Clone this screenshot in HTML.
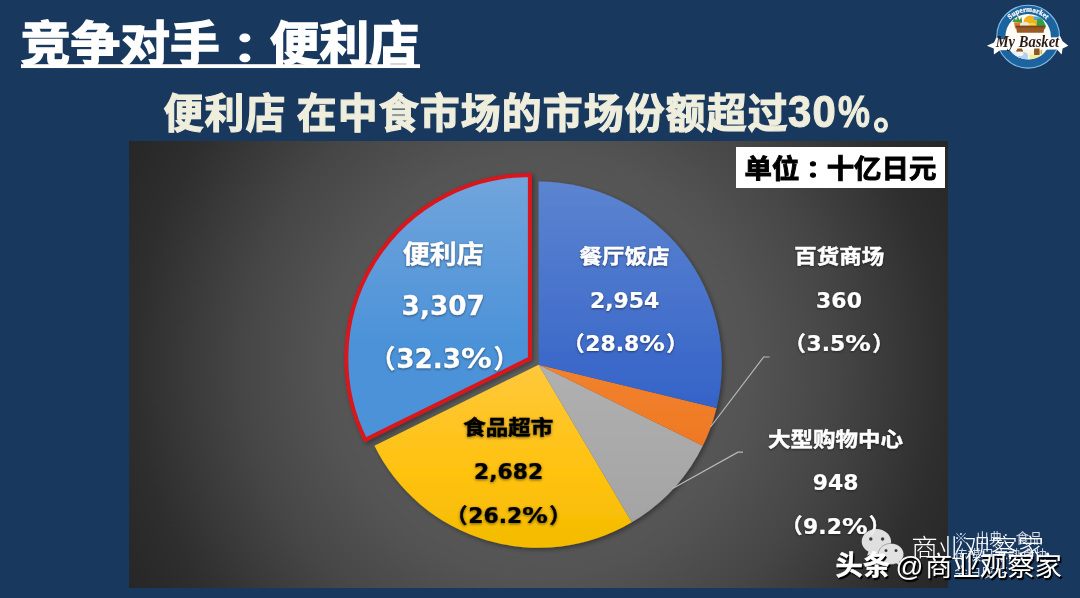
<!DOCTYPE html>
<html lang="zh-CN">
<head>
<meta charset="utf-8">
<title>竞争对手：便利店</title>
<style>
html,body{margin:0;padding:0;}
body{width:1080px;height:598px;overflow:hidden;position:relative;background:#19385e;
  font-family:"Liberation Sans","Noto Sans CJK SC",sans-serif;}
.abs{position:absolute;white-space:nowrap;}
.cjk{font-family:"Noto Sans CJK SC","Liberation Sans",sans-serif;font-weight:bold;}
.tc{font-family:"Noto Sans CJK TC","Noto Sans CJK SC",sans-serif;display:inline-block;transform-origin:50% 80%;transform:translateY(0.03em) scaleY(0.86);}
#title{left:20.7px;top:4px;font-size:49.8px;line-height:72px;color:#fff;-webkit-text-stroke:1.5px #fff;transform-origin:0 41px;transform:scale(1,0.96);letter-spacing:0px;}
#title .u{position:absolute;left:-0.2px;right:-0.5px;top:61.3px;height:3.5px;background:#fff;}
#sub{left:163.5px;top:74.6px;font-size:39.8px;line-height:72px;color:#efeedd;-webkit-text-stroke:1.15px #efeedd;transform-origin:0 57px;transform:scale(1,1.03);letter-spacing:1.2px;}
#pct{font-family:"Liberation Sans",sans-serif;font-size:41px;letter-spacing:1.3px;-webkit-text-stroke:1.0px #efeedd;display:inline-block;position:relative;top:-0.8px;transform-origin:0 78%;transform:scale(1.02,1.03);margin-right:1.0px;margin-left:-0.8px;}
#pc{display:inline-block;transform-origin:0 70%;transform:scaleX(0.86);margin-left:0.3px;margin-right:-2.0px;}
#panel{left:128.5px;top:141.3px;width:819.6px;height:446.5px;
  background:radial-gradient(circle 470px at 50% 50%, #626262 0%, #545454 45%, #464646 63%, #2e2e2e 86%, #262626 100%);}
#unit{left:735.5px;top:147.2px;width:209.5px;height:40.8px;background:#fff;color:#000;}
#unit span.t{position:absolute;left:9px;top:-0.8px;font-size:27.4px;line-height:40.8px;letter-spacing:0px;-webkit-text-stroke:1.0px #000;transform-origin:0 50%;transform:scale(1,0.96);}
#chart{left:0;top:0;}
#chart text{text-anchor:middle;font-weight:bold;}
#chart .lb{fill:#fff;filter:drop-shadow(0.6px 1px 1.2px rgba(0,0,0,.45));}
#chart .lb.dk{fill:#000;filter:drop-shadow(0.6px 1px 1.8px rgba(0,0,0,.55));}
#chart .c{font-family:"Noto Sans CJK SC","Liberation Sans",sans-serif;stroke-width:0.5px;stroke:#fff;}
#chart .dk .c{stroke:#000;}
#chart .n{font-family:"DejaVu Sans","Liberation Sans","Noto Sans CJK SC",sans-serif;stroke:#fff;stroke-width:0.25px;}
#chart .dk .n{stroke:#000;}
#chart .p{stroke-width:0.6px;}
#logo{left:980px;top:0;}
#src{left:954.3px;top:528.8px;font-size:13.4px;line-height:17.3px;color:#e4eaf4;font-family:"Noto Sans CJK SC","Liberation Sans",sans-serif;font-weight:400;opacity:.9;}
#wx{left:855px;top:521.3px;}
#wm1{left:911.2px;top:528px;font-size:26.6px;line-height:38px;color:#fff;font-family:"Noto Sans CJK SC","Liberation Sans",sans-serif;font-weight:300;}
#wm2,#wm3{color:#fff;line-height:38px;text-shadow:1.5px 1.5px 0.5px #000, 1px 2px 1.5px rgba(0,0,0,.8);}
#wm2{left:835.6px;top:544.2px;font-size:27.3px;font-family:"Noto Sans CJK SC","Liberation Sans",sans-serif;font-weight:bold;-webkit-text-stroke:0.5px #fff;}
#wm3{left:895.6px;top:544.6px;font-size:27.4px;font-family:"Noto Sans CJK SC","Liberation Sans",sans-serif;font-weight:normal;}
#wm3 .at{font-family:"Liberation Sans","Noto Sans CJK SC",sans-serif;font-size:27.5px;display:inline-block;margin-right:1.5px;}
#src i{font-style:normal;margin-right:5px;}
</style>
</head>
<body>
<div id="panel" class="abs"></div>

<div id="title" class="abs cjk">竞争对手<span lang="zh-TW" class="tc">：</span>便利店<span class="u"></span></div>
<div id="sub" class="abs cjk">便利店 在中食市场的市场份额超过<span id="pct">30<span id="pc">%</span></span>。</div>

<svg id="chart" class="abs" width="1080" height="598" viewBox="0 0 1080 598">
  <defs>
    <linearGradient id="gRest" gradientUnits="userSpaceOnUse" x1="0" y1="181.6" x2="0" y2="547.8">
      <stop offset="0" stop-color="#5c84d0"/><stop offset="0.62" stop-color="#3463c8"/>
    </linearGradient>
    <linearGradient id="gConv" gradientUnits="userSpaceOnUse" x1="0" y1="181.6" x2="0" y2="547.8">
      <stop offset="0" stop-color="#70a4dc"/><stop offset="0.45" stop-color="#4b92d8"/>
    </linearGradient>
    <linearGradient id="gFood" gradientUnits="userSpaceOnUse" x1="0" y1="364.7" x2="0" y2="547.8">
      <stop offset="0" stop-color="#ffc83c"/><stop offset="0.6" stop-color="#ffc20f"/><stop offset="1" stop-color="#f3bc00"/>
    </linearGradient>
    <linearGradient id="gDept" gradientUnits="userSpaceOnUse" x1="0" y1="364.7" x2="0" y2="456.25">
      <stop offset="0" stop-color="#f2822f"/><stop offset="1" stop-color="#ee7722"/>
    </linearGradient>
    <linearGradient id="gMall" gradientUnits="userSpaceOnUse" x1="0" y1="364.7" x2="0" y2="547.8">
      <stop offset="0" stop-color="#b0b0b0"/><stop offset="1" stop-color="#a2a2a2"/>
    </linearGradient>
    <filter id="sh" x="-10%" y="-10%" width="125%" height="125%">
      <feGaussianBlur in="SourceAlpha" stdDeviation="2.5"/>
      <feOffset dx="1.5" dy="2"/>
      <feComponentTransfer><feFuncA type="linear" slope="0.38"/></feComponentTransfer>
      <feMerge><feMergeNode/><feMergeNode in="SourceGraphic"/></feMerge>
    </filter>
  </defs>
  <g filter="url(#sh)">
    <path d="M538.60,364.70 L631.81,522.30 A183.1,183.1 0 0 1 374.43,445.77 Z" fill="url(#gFood)"/>
    <path d="M538.60,364.70 L702.77,445.77 A183.1,183.1 0 0 1 631.81,522.30 Z" fill="url(#gMall)"/>
    <path d="M538.60,364.70 L716.51,408.00 A183.1,183.1 0 0 1 702.77,445.77 Z" fill="url(#gDept)"/>
    <path d="M538.60,364.70 L538.60,181.60 A183.1,183.1 0 0 1 716.51,408.00 Z" fill="url(#gRest)"/>
  </g>
  <g filter="url(#sh)">
    <path d="M529.90,358.60 L365.28,439.89 A183.6,183.6 0 0 1 529.90,175.00 Z" fill="url(#gConv)" stroke="#d8141c" stroke-width="4.0" stroke-linejoin="miter"/>
  </g>
  <polyline points="710.5,427 763.6,357 769.5,357" fill="none" stroke="#b9b9b9" stroke-width="1.2"/>
  <polyline points="672.7,488.5 738,452.2 743,452.2" fill="none" stroke="#b9b9b9" stroke-width="1.2"/>
  <g class="lb" font-size="27">
  <text class="c" transform="translate(443.2,263) scale(1,0.92)">便利店</text>
  <text class="n" transform="translate(443.2,315.1) scale(0.975,1.0)">3,307</text>
  <text class="n" transform="translate(444.5,368.09999999999997) scale(0.975,1.0)"><tspan class="c p" font-size="25.38" dy="-0.36">（</tspan><tspan dx="0.96" dy="0.36">32.3</tspan><tspan textLength="31.59" lengthAdjust="spacingAndGlyphs">%</tspan><tspan class="c p" font-size="25.38" dx="1.92" dy="-0.36">）</tspan></text>
  </g>
  <g class="lb" font-size="22.5">
  <text class="c" transform="translate(624.4,264.4) scale(1,0.92)">餐厅饭店</text>
  <text class="n" transform="translate(624.7,308.1) scale(0.975,0.965)">2,954</text>
  <text class="n" transform="translate(625.5,351.4) scale(0.975,0.965)"><tspan class="c p" font-size="21.15" dy="-0.30">（</tspan><tspan dx="0.80" dy="0.30">28.8</tspan><tspan textLength="26.32" lengthAdjust="spacingAndGlyphs">%</tspan><tspan class="c p" font-size="21.15" dx="1.60" dy="-0.30">）</tspan></text>
  </g>
  <g class="lb dk" font-size="22.5">
  <text class="c" transform="translate(508.2,435.3) scale(1,0.92)">食品超市</text>
  <text class="n" transform="translate(508.6,478.8) scale(0.975,0.965)">2,682</text>
  <text class="n" transform="translate(508.5,523.0999999999999) scale(0.975,0.965)"><tspan class="c p" font-size="21.15" dy="-0.30">（</tspan><tspan dx="0.80" dy="0.30">26.2</tspan><tspan textLength="26.32" lengthAdjust="spacingAndGlyphs">%</tspan><tspan class="c p" font-size="21.15" dx="1.60" dy="-0.30">）</tspan></text>
  </g>
  <g class="lb" font-size="22.5">
  <text class="c" transform="translate(839.2,263.8) scale(1,0.92)">百货商场</text>
  <text class="n" transform="translate(839,307.5) scale(0.975,0.965)">360</text>
  <text class="n" transform="translate(839.1,351.0) scale(0.975,0.965)"><tspan class="c p" font-size="21.15" dy="-0.30">（</tspan><tspan dx="0.80" dy="0.30">3.5</tspan><tspan textLength="26.32" lengthAdjust="spacingAndGlyphs">%</tspan><tspan class="c p" font-size="21.15" dx="1.60" dy="-0.30">）</tspan></text>
  </g>
  <g class="lb" font-size="22.5">
  <text class="c" transform="translate(835.4,446.5) scale(1,0.92)">大型购物中心</text>
  <text class="n" transform="translate(835.6,490.0) scale(0.975,0.965)">948</text>
  <text class="n" transform="translate(835.7,533.6999999999999) scale(0.975,0.965)"><tspan class="c p" font-size="21.15" dy="-0.30">（</tspan><tspan dx="0.80" dy="0.30">9.2</tspan><tspan textLength="26.32" lengthAdjust="spacingAndGlyphs">%</tspan><tspan class="c p" font-size="21.15" dx="1.60" dy="-0.30">）</tspan></text>
  </g>
</svg>

<div id="unit" class="abs cjk"><span class="t">单位<span lang="zh-TW" class="tc">：</span>十亿日元</span></div>

<svg id="logo" class="abs" width="100" height="80" viewBox="980 0 100 80">
  <defs>
    <path id="arcS" d="M1003.15,36.7 A25,25 0 0 1 1053.15,36.7"/>
    <clipPath id="inC"><circle cx="1028.15" cy="36.7" r="22.8"/></clipPath>
  </defs>
  <circle cx="1028.15" cy="36.7" r="31.4" fill="#1c649f" stroke="#86bde6" stroke-width="1.1"/>
  <circle cx="1028.15" cy="36.7" r="22.8" fill="#fdfdf6"/>
  <text font-family="'Liberation Serif',serif" font-weight="bold" font-size="7.1" fill="#ffffff" letter-spacing="0" stroke="#fff" stroke-width="0.25"><textPath href="#arcS" startOffset="50%" text-anchor="middle">Supermarket</textPath></text>
  <g clip-path="url(#inC)">
    <!-- basket contents -->
    <path d="M1012.5,22 l2,-5 l1.5,3.5 l1.8,-4.5 l1.6,4 l2.2,-3 l0.6,6 z" fill="#3f9c3f"/>
    <path d="M1014,22.5 h6.5 l-1,6 h-4.5 z" fill="#e2762a"/>
    <ellipse cx="1030.5" cy="22.5" rx="7" ry="7" fill="#f2b21f"/>
    <ellipse cx="1032" cy="26.5" rx="4.5" ry="3.5" fill="#f7d73c"/>
    <ellipse cx="1025" cy="25" rx="4.5" ry="3" fill="#efe9dc"/>
    <path d="M1033.5,16.5 h7.5 l1,3.5 h-8 z" fill="#4fa7dc"/>
    <path d="M1037,19.5 l5,-1.5 l4,8 l-1,3 h-8.5 z" fill="#2fa14b"/>
    <path d="M1015.8,25.8 h29 l-1.2,7 h-26.6 z" fill="#9a5a26"/>
    <path d="M1015.8,25.8 h29 l-0.3,1.8 h-28.4 z" fill="#7d4519"/>
    <!-- lower items -->
    <rect x="1022" y="44" width="22" height="12" fill="#fbf6dc"/>
    <path d="M1017,45 h4.8 l1.2,6.5 h-6.6 z" fill="#8d5722"/>
    <path d="M1034.2,45 h5.2 v10 h-5.2 z" fill="#8d5722"/>
    <rect x="1040.5" y="46" width="1.6" height="8" fill="#c9b06a"/>
    <ellipse cx="1015" cy="55.5" rx="4.6" ry="4.2" fill="#e9eef7"/>
    <ellipse cx="1023" cy="56.5" rx="5.2" ry="4.6" fill="#b3d0ec"/>
    <ellipse cx="1020" cy="53.5" rx="3.5" ry="2.6" fill="#f1f4fa"/>
    <path d="M1029.5,54.6 h14.5 v7 h-14.5 z" fill="#f4ec9a"/>
  </g>
  <!-- ribbon -->
  <path d="M986.9,45.8 L994,42.6 L996.3,37.6 L1000,39.2 L1056.5,37.2 L1060,36 L1062.6,41.2 L1068.4,45.8 L1062.6,48.4 L1061.6,54.6 L1057,49.6 L1000,50.2 L993.9,54.6 L993.8,48.6 Z" fill="#ffffff"/>
  <rect x="1021" y="34" width="19" height="4" fill="#ffffff"/>
  <text x="1027.4" y="47.3" text-anchor="middle" font-family="'Liberation Serif',serif" font-style="italic" font-weight="bold" font-size="17.4" fill="#2e1c14" textLength="63.5" lengthAdjust="spacingAndGlyphs">My Basket</text>
  <g clip-path="url(#inC)">
    <path d="M1017.4,48.6 h4.4 l1.2,3 h-6.6 z" fill="#8d5722"/>
    <path d="M1034.2,48.6 h5.2 v6.4 h-5.2 z" fill="#8d5722"/>
  </g>
</svg>

<div id="src" class="abs"><i>※</i> 出典：食品<br>传媒日本熟食协<br>会白皮书</div>
<svg id="wx" class="abs" width="60" height="50" viewBox="855 520 60 50">
  <g fill="#e9e9e9" fill-opacity="0.95">
    <path d="M876.4,528 c8.1,0 14.7,5.6 14.7,12.5 c0,6.9 -6.6,12.5 -14.7,12.5 c-1.6,0 -3.2,-0.2 -4.6,-0.6 l-4.6,2.4 l1.2,-4.2 c-4,-2.3 -6.7,-6 -6.7,-10.1 c0,-6.9 6.6,-12.5 14.7,-12.5 z"/>
  </g>
  <g fill="#e2e2e2">
    <path d="M891,542.4 c6.9,0 12.7,4.7 12.7,10.6 c0,3.3 -1.8,6.2 -4.6,8.1 l0.9,3.4 l-3.8,-2 c-1.6,0.6 -3.3,0.9 -5.2,0.9 c-6.9,0 -12.7,-4.7 -12.7,-10.4 c0,-5.9 5.8,-10.6 12.7,-10.6 z" stroke="#3a3a3a" stroke-opacity="0.4" stroke-width="0.9"/>
  </g>
  <g fill="#3c3c3c">
    <circle cx="870.8" cy="538" r="1.7"/><circle cx="882.6" cy="538" r="1.7"/>
    <circle cx="886" cy="549.4" r="1.5"/><circle cx="896" cy="549.4" r="1.5"/>
  </g>
</svg>
<div id="wm1" class="abs">商业观察家</div>
<div id="wm2" class="abs">头条</div>
<div id="wm3" class="abs"><span class="at">@</span>商业观察家</div>

</body>
</html>
